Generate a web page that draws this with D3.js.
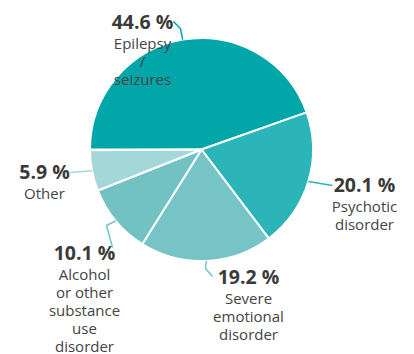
<!DOCTYPE html>
<html>
<head>
<meta charset="utf-8">
<script src="https://cdn.jsdelivr.net/npm/d3@7"></script>
<style>
  body { margin: 0; background: #fff; }
  svg { display: block; font-family: "Open Sans", sans-serif; }
</style>
</head>
<body>
<svg id="chart"></svg>
<script>
var width = 414,
    height = 354;

// slice data, clockwise from 9 o'clock
var categories = ["Epilepsy / seizures", "Psychotic disorder", "Severe emotional disorder",
                  "Alcohol or other substance use disorder", "Other"];
var values = [44.6, 20.1, 19.2, 10.1, 5.9];
var labelLines = [
  ["Epilepsy", "/", "seizures"],
  ["Psychotic", "disorder"],
  ["Severe", "emotional", "disorder"],
  ["Alcohol", "or other", "substance", "use", "disorder"],
  ["Other"]
];
var colors = ["#00a6a8", "#2bb5b8", "#76c4c6", "#72c2c4", "#a4d7d8"];

// label placement (offsets from pie centre): text anchor, connector bend and end
var labelLayout = [
  {dx: -59, dy: -121, bend: [-21, -121], end: [-28, -128]},
  {dx: 163, dy: 42, bend: null, end: [131, 36]},
  {dx: 47, dy: 134, bend: [4, 119], end: [11, 127]},
  {dx: -117, dy: 110, bend: [-95, 76], end: [-89, 98]},
  {dx: -157, dy: 29, bend: null, end: [-131, 23]}
];

var cx = 201.5, cy = 149.5, radius = 111.5;

var svg = d3.select("#chart")
    .attr("width", width)
    .attr("height", height);

var g = svg.append("g")
    .attr("transform", "translate(" + cx + "," + cy + ")");

var total = d3.sum(values);
var pie = d3.pie()
    .sort(null)
    .startAngle(-Math.PI / 2)
    .endAngle(-Math.PI / 2 + 2 * Math.PI * total / 100);

var arc = d3.arc().innerRadius(0).outerRadius(radius);
var edge = d3.arc().innerRadius(radius).outerRadius(radius);

var arcs = pie(values);

g.selectAll(".slice")
    .data(arcs)
  .enter().append("path")
    .attr("class", "slice")
    .attr("d", arc)
    .attr("fill", function(d, i) { return colors[i]; })
    .attr("stroke", "#fff")
    .attr("stroke-width", 2)
    .attr("stroke-linejoin", "round");

// connectors
g.selectAll(".connector")
    .data(arcs)
  .enter().append("path")
    .attr("class", "connector")
    .attr("fill", "none")
    .attr("stroke", function(d, i) { return colors[i]; })
    .attr("stroke-width", 1.5)
    .attr("d", function(d, i) {
      var l = labelLayout[i];
      var pts = [edge.centroid(d)];
      if (l.bend) pts.push(l.bend);
      pts.push(l.end);
      return d3.line()(pts);
    });

// labels
var labels = g.selectAll(".label")
    .data(arcs)
  .enter().append("text")
    .attr("class", "label")
    .attr("text-anchor", "middle")
    .attr("transform", function(d, i) {
      return "translate(" + labelLayout[i].dx + "," + labelLayout[i].dy + ")";
    });

labels.append("tspan")
    .attr("x", 0)
    .attr("y", 0)
    .attr("font-size", 19.5)
    .attr("font-weight", "bold")
    .attr("fill", "#3a3a3a")
    .text(function(d, i) { return values[i].toFixed(1) + " %"; });

labels.each(function(d, i) {
  var t = d3.select(this);
  labelLines[i].forEach(function(line, j) {
    t.append("tspan")
        .attr("x", 0)
        .attr("y", 20.5 + j * 18)
        .attr("font-size", 15)
        .attr("fill", "#444")
        .text(line);
  });
});
</script>
</body>
</html>
